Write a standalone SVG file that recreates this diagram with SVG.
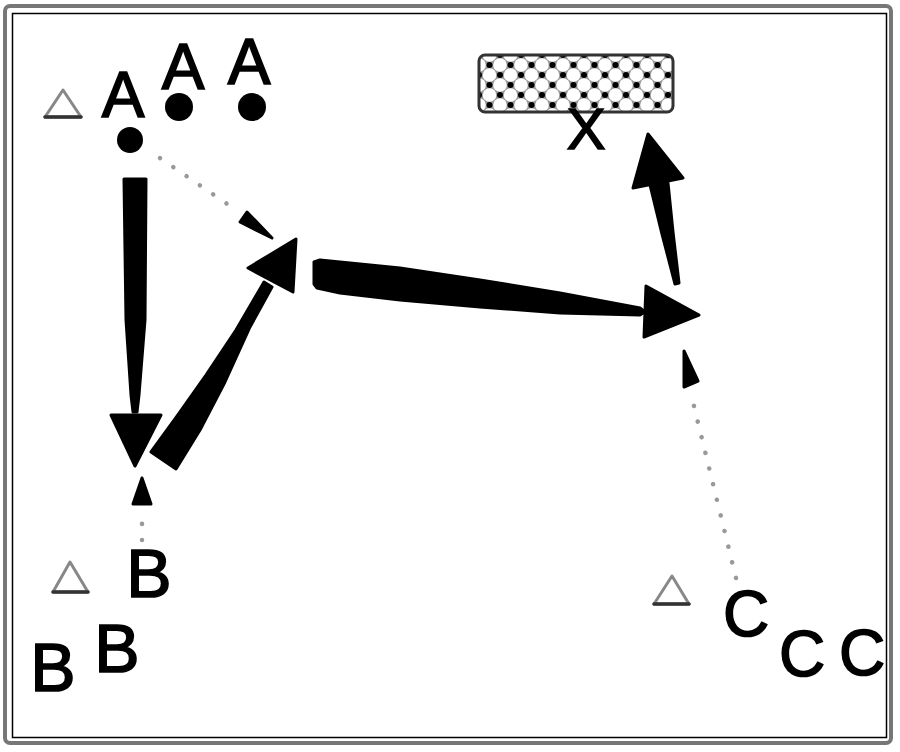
<svg xmlns="http://www.w3.org/2000/svg" width="900" height="752" viewBox="0 0 900 752">
<style>
.lbl{font-family:"Liberation Sans",Arial,sans-serif;font-size:64px;fill:#000;stroke:#000;stroke-width:1.6;text-anchor:middle}
.cone{fill:none;stroke:#888;stroke-width:3;stroke-linejoin:round}
.cone-base{stroke:#333;stroke-width:3.5;stroke-linecap:round}
.run{fill:#000;stroke:#000;stroke-width:3;stroke-linejoin:round}
.pass{fill:none;stroke:#999;stroke-width:4.5;stroke-linecap:round;stroke-dasharray:0.1 16}
.ball{fill:#000}
</style>
<defs>
<pattern id="net" width="21" height="20" patternUnits="userSpaceOnUse" x="479" y="55">
<rect width="21" height="20" fill="#999"/>
<circle cx="0" cy="10" r="6.8" fill="#fff"/>
<circle cx="21" cy="10" r="6.8" fill="#fff"/>
<circle cx="10.5" cy="0" r="6.8" fill="#fff"/>
<circle cx="10.5" cy="20" r="6.8" fill="#fff"/>
<circle cx="0" cy="0" r="3" fill="#000"/>
<circle cx="21" cy="0" r="3" fill="#000"/>
<circle cx="0" cy="20" r="3" fill="#000"/>
<circle cx="21" cy="20" r="3" fill="#000"/>
<circle cx="10.5" cy="10" r="3" fill="#000"/>
</pattern>
</defs>
<rect width="900" height="752" fill="#fff"/>
<g id="frame">
<rect x="5" y="6" width="886" height="737" rx="5" fill="none" stroke="#777" stroke-width="4"/>
<rect x="12.5" y="13.5" width="874" height="724" fill="none" stroke="#000" stroke-width="1.5"/>
</g>
<g id="goal">
<rect x="479" y="55" width="194" height="57" rx="6" fill="url(#net)" stroke="#333" stroke-width="3"/>
<text class="lbl" x="586" y="149" style="font-size:58px">X</text>
</g>
<g id="cones">
<polygon class="cone" points="45,117 63,90 81,117"/>
<line class="cone-base" x1="45" y1="117" x2="81" y2="117"/>
<polygon class="cone" points="53,592 70,562 88,592"/>
<line class="cone-base" x1="53" y1="592" x2="88" y2="592"/>
<polygon class="cone" points="654,604 672,576 689,604"/>
<line class="cone-base" x1="654" y1="604" x2="689" y2="604"/>
</g>
<g id="team-a">
<text class="lbl" x="123" y="117">A</text>
<text class="lbl" x="183" y="89">A</text>
<text class="lbl" x="249" y="84">A</text>
<circle class="ball" cx="130" cy="140" r="13"/>
<circle class="ball" cx="179" cy="107" r="14"/>
<circle class="ball" cx="252" cy="107" r="14"/>
</g>
<g id="team-b">
<text class="lbl" x="149" y="597" style="font-size:68px">B</text>
<text class="lbl" x="117" y="672" style="font-size:68px">B</text>
<text class="lbl" x="53" y="691" style="font-size:68px">B</text>
</g>
<g id="team-c">
<text class="lbl" x="746" y="636" style="font-size:64px">C</text>
<text class="lbl" x="802" y="676" style="font-size:64px">C</text>
<text class="lbl" x="862" y="675" style="font-size:64px">C</text>
</g>
<g id="connectors">
<line class="pass" x1="160" y1="158" x2="236" y2="210"/>
<polygon class="run" points="272,238 247,212 240,222"/>
<line class="pass" x1="142" y1="540" x2="142" y2="510"/>
<polygon class="run" points="142,478 133,504 151,504"/>
<line class="pass" x1="736" y1="578" x2="692" y2="398"/>
<polygon class="run" points="684,351 684,387 698,381"/>
<polygon class="run" points="124,179 146,179 145,320 139,395 137,412 133,412 131,395 126,320"/>
<polygon class="run" points="111,415 161,415 135,466"/>
<polygon class="run" points="151,452 176,469 200,430 225,382 250,327 272,287 264,282 236,330 206,375 177,416"/>
<polygon class="run" points="296,239 248,268 293,292"/>
<polygon class="run" points="314,262 320,260 400,268 480,280 560,293 640,308 645,312 640,315 560,313 480,307 400,300 340,293 317,288 314,284"/>
<polygon class="run" points="699,315 646,286 644,337"/>
<polygon class="run" points="650,185 668,183 673,232 679,283 675,284 662,234"/>
<polygon class="run" points="648,134 633,188 683,178"/>
</g>
</svg>
